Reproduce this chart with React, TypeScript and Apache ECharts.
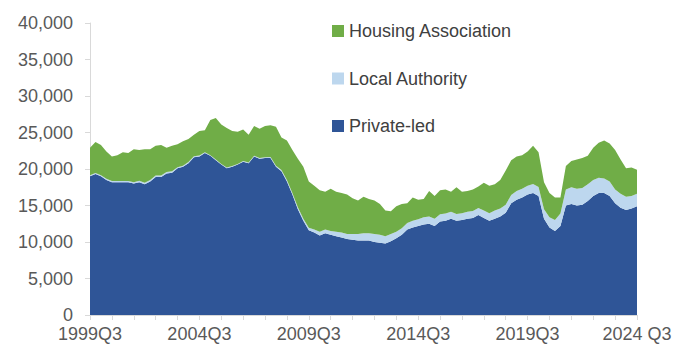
import React, { useEffect, useRef } from "react";
import * as echarts from "echarts";

// Quarter labels 1999Q3 .. 2024Q3
const startYear = 1999;
const startQuarter = 3;
const quarterCount = 101;
const categories: string[] = [];
for (let k = 0; k < quarterCount; k++) {
  const q0 = startQuarter - 1 + k;
  const y = startYear + Math.floor(q0 / 4);
  const q = (q0 % 4) + 1;
  categories.push(k === quarterCount - 1 ? `${y} Q${q}` : `${y}Q${q}`);
}

const privateLed = [
  19000, 19300, 19000, 18500, 18200, 18200, 18200, 18200, 18000, 18200,
  17900, 18300, 18900, 18900, 19400, 19500, 20100, 20300, 20800, 21600,
  21700, 22200, 21800, 21200, 20600, 20100, 20300, 20600, 21000, 20800,
  21700, 21400, 21500, 21500, 20300, 19700, 18300, 16500, 14500, 12900,
  11600, 11300, 10900, 11200, 11000, 10800, 10600, 10400, 10300, 10200,
  10200, 10200, 10000, 9900, 9800, 10100, 10500, 11000, 11700, 12000,
  12200, 12400, 12500, 12200, 12800, 12900, 13200, 12900, 13000, 13200,
  13300, 13700, 13300, 12900, 13200, 13500, 14000, 15300, 15800, 16100,
  16500, 16700, 16300, 13200, 12000, 11500, 12200, 15000, 15200, 15000,
  15100, 15600, 16300, 16700, 16700, 16300, 15300, 14700, 14400, 14600,
  14900,
];

const localAuthority = [
  150, 150, 150, 150, 150, 150, 150, 150, 200, 200,
  200, 200, 200, 200, 200, 200, 150, 150, 150, 150,
  150, 100, 100, 100, 100, 100, 100, 100, 100, 100,
  100, 100, 100, 150, 150, 150, 200, 200, 250, 300,
  350, 400, 500, 500, 500, 600, 700, 700, 800, 900,
  1000, 1000, 1100, 1100, 1000, 1000, 900, 900, 900, 900,
  900, 1000, 1000, 1000, 1000, 1000, 950, 950, 950, 950,
  950, 950, 1000, 1050, 1100, 1100, 1100, 1150, 1200, 1200,
  1200, 1250, 1250, 1300, 1400, 1500, 1700, 2200, 2300, 2300,
  2300, 2300, 2200, 2100, 2000, 2000, 1900, 1900, 1800, 1700,
  1700,
];

const housingAssociation = [
  3750, 4250, 4150, 3750, 3350, 3550, 3950, 3850, 4500, 4200,
  4600, 4200, 4100, 4200, 3300, 3500, 3150, 3350, 3150, 2950,
  3350, 3000, 4800, 5700, 5400, 5400, 4800, 4400, 4300, 3800,
  4100, 4000, 4300, 4350, 5350, 4450, 5400, 5900, 6650, 7100,
  6350, 6000, 5700, 5200, 5800, 5500, 5400, 5400, 4900, 4600,
  5000, 4700, 4600, 4200, 3500, 3100, 3500, 3300, 2700, 3200,
  2700, 2500, 3500, 3100, 3300, 3300, 2750, 3650, 2950, 2850,
  2950, 2950, 3800, 3750, 3600, 3900, 4700, 4750, 4700, 4600,
  4700, 5250, 4750, 3700, 3300, 3100, 2200, 3200, 3600, 4000,
  4100, 3900, 4400, 4800, 5200, 5200, 5400, 4700, 3900, 3900,
  3300,
];

const seriesNames = ["Private-led", "Local Authority", "Housing Association"];
const seriesColors = ["#2F5597", "#BDD7EE", "#70AD47"];
const seriesData = [privateLed, localAuthority, housingAssociation];

const FONT = "'Liberation Sans', Arial, sans-serif";

export default function App() {
  const ref = useRef<HTMLDivElement>(null);

  useEffect(() => {
    if (!ref.current) return;
    const chart = echarts.init(ref.current, undefined, { renderer: "svg" });
    chart.setOption({
      animation: false,
      backgroundColor: "#ffffff",
      textStyle: { fontFamily: FONT },
      legend: {
        orient: "vertical",
        left: 327,
        top: 17,
        itemWidth: 12,
        itemHeight: 12,
        itemGap: 29.5,
        icon: "rect",
        data: ["Housing Association", "Local Authority", "Private-led"],
        textStyle: {
          fontFamily: FONT,
          fontSize: 18,
          lineHeight: 18,
          color: "#404040",
        },
      },
      grid: { left: 90, right: 45, top: 23, bottom: 37 },
      xAxis: {
        type: "category",
        boundaryGap: false,
        data: categories,
        axisLine: { show: true, lineStyle: { color: "#d9d9d9", width: 1 } },
        axisTick: {
          show: true,
          interval: 3,
          length: 5,
          lineStyle: { color: "#d9d9d9" },
        },
        axisLabel: {
          interval: 19,
          margin: 10,
          fontFamily: FONT,
          fontSize: 18,
          color: "#595959",
        },
        splitLine: { show: false },
      },
      yAxis: {
        type: "value",
        min: 0,
        max: 40000,
        interval: 5000,
        axisLine: { show: true, lineStyle: { color: "#d9d9d9", width: 1 } },
        axisTick: { show: true, length: 5, lineStyle: { color: "#d9d9d9" } },
        axisLabel: {
          margin: 17,
          fontFamily: FONT,
          fontSize: 18,
          color: "#595959",
          formatter: (v: number) => v.toLocaleString("en-US"),
        },
        splitLine: { show: false },
      },
      series: seriesNames.map((name, k) => ({
        name,
        type: "line",
        stack: "total",
        data: seriesData[k],
        symbol: "none",
        lineStyle: { width: 0 },
        itemStyle: { color: seriesColors[k] },
        areaStyle: { color: seriesColors[k], opacity: 1 },
      })),
    });
    return () => chart.dispose();
  }, []);

  return (
    <div
      ref={ref}
      style={{ position: "fixed", left: 0, top: 0, width: 682, height: 352 }}
    />
  );
}
